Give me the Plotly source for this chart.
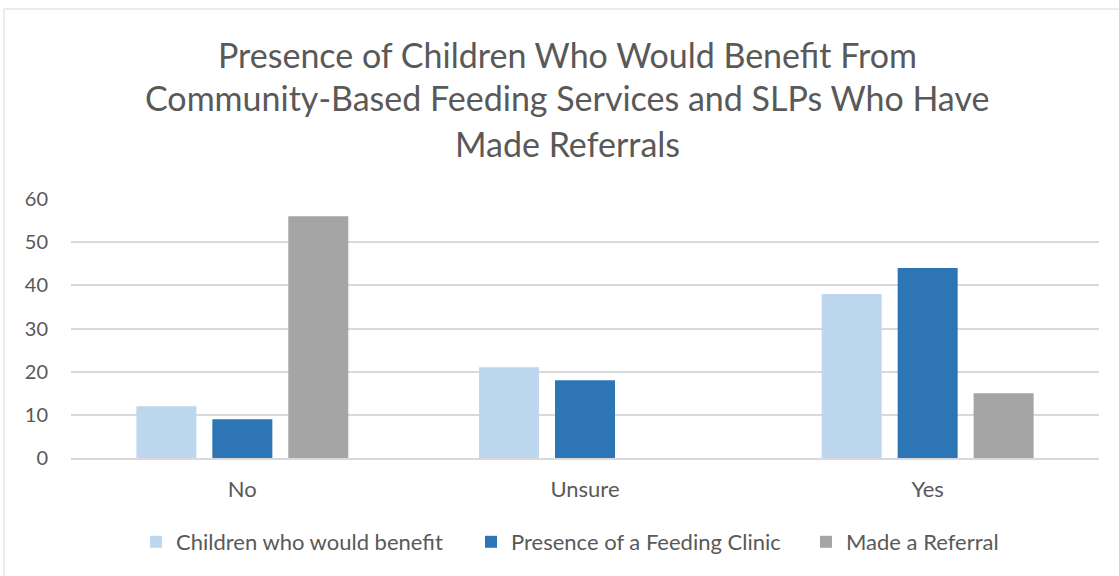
import plotly.graph_objects as go

categories = ["No", "Unsure", "Yes"]
children_benefit = [12, 21, 38]
feeding_clinic = [9, 18, 44]
made_referral = [56, 0, 15]

series_names = ["Children who would benefit", "Presence of a Feeding Clinic", "Made a Referral"]
series_colors = ["#BDD7EE", "#2E75B6", "#A5A5A5"]
y_ticks = [0, 10, 20, 30, 40, 50, 60]

title_lines = [
    "Presence of Children Who Would Benefit From",
    "Community-Based Feeding Services and SLPs Who Have",
    "Made Referrals",
]

FONT = "Lato"
TEXT = "#595959"

fig = go.Figure()
for name, vals, col in zip(series_names, [children_benefit, feeding_clinic, made_referral], series_colors):
    fig.add_trace(go.Bar(x=categories, y=vals, name=name, marker=dict(color=col, line=dict(width=0))))

W, H = 1119, 576
L, R, T, B = 71, 20, 199, 118
pw, ph = W - L - R, H - T - B

def px_x(x):
    return (x - L) / pw

def px_y(y):
    return (H - B - y) / ph

annotations = []
for line, yc in zip(title_lines, [54, 98, 143]):
    annotations.append(dict(text=line, x=px_x(567), xref="paper", y=px_y(yc), yref="paper",
                            xanchor="center", yanchor="middle", showarrow=False,
                            font=dict(family=FONT, size=34, color=TEXT)))

fig.update_layout(
    width=W, height=H,
    margin=dict(l=L, r=R, t=T, b=B, pad=0, autoexpand=False),
    paper_bgcolor="white", plot_bgcolor="white",
    barmode="group", bargap=0.335, bargroupgap=0.21,
    font=dict(family=FONT, size=20, color=TEXT),
    annotations=annotations,
    showlegend=True,
    legend=dict(orientation="h", x=px_x(136), xanchor="left", y=px_y(542), yanchor="middle",
                font=dict(family=FONT, size=22, color=TEXT), itemwidth=30,
                entrywidth=290, entrywidthmode="pixels",
                traceorder="normal", tracegroupgap=0),
    shapes=[
        dict(type="line", xref="paper", yref="paper", x0=px_x(4), x1=px_x(1125), y0=px_y(9), y1=px_y(9),
             line=dict(color="#D9D9D9", width=1)),
        dict(type="line", xref="paper", yref="paper", x0=px_x(4), x1=px_x(4), y0=px_y(9), y1=px_y(580),
             line=dict(color="#D9D9D9", width=1)),
    ],
)
fig.update_yaxes(range=[0, 60], tickvals=y_ticks, showgrid=True, gridcolor="#D9D9D9", gridwidth=1.5,
                 zeroline=False, showline=False, ticks="", ticklabelstandoff=22,
                 tickfont=dict(family=FONT, size=20, color=TEXT))
fig.update_xaxes(showline=True, linecolor="#D9D9D9", linewidth=1.5, ticks="", ticklabelstandoff=11,
                 tickfont=dict(family=FONT, size=22, color=TEXT))

fig.write_html("out.html")
